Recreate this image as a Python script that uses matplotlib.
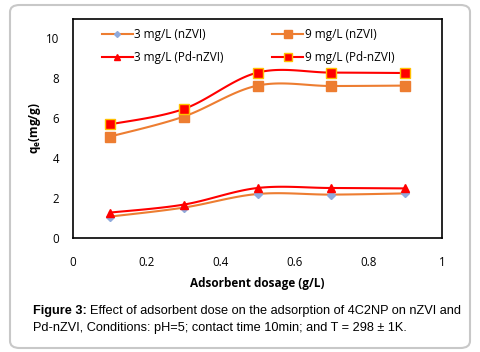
import matplotlib
matplotlib.use('Agg')
import matplotlib.pyplot as plt
import numpy as np
from matplotlib.patches import FancyBboxPatch

dosage = [0.1, 0.3, 0.5, 0.7, 0.9]
q_3_nzvi = [1.07, 1.52, 2.20, 2.17, 2.23]
q_9_nzvi = [5.07, 6.07, 7.62, 7.60, 7.62]
q_3_pd = [1.27, 1.67, 2.50, 2.50, 2.48]
q_9_pd = [5.68, 6.45, 8.27, 8.27, 8.25]

orange = '#ED7D31'
red = '#FF0000'
font = 'Open Sans'


def smooth(x, y, n=30):
    # excel style smoothed line (catmull-rom bezier)
    x = np.asarray(x, float)
    y = np.asarray(y, float)
    px = np.concatenate([[x[0]], x, [x[-1]]])
    py = np.concatenate([[y[0]], y, [y[-1]]])
    xs, ys = [], []
    t = np.linspace(0, 1, n)
    for i in range(1, len(px) - 2):
        p0 = np.array([px[i], py[i]])
        p3 = np.array([px[i + 1], py[i + 1]])
        p1 = p0 + (np.array([px[i + 1], py[i + 1]]) - np.array([px[i - 1], py[i - 1]])) / 6
        p2 = p3 - (np.array([px[i + 2], py[i + 2]]) - np.array([px[i], py[i]])) / 6
        b = ((1 - t) ** 3)[:, None] * p0 + (3 * (1 - t) ** 2 * t)[:, None] * p1 \
            + (3 * (1 - t) * t ** 2)[:, None] * p2 + (t ** 3)[:, None] * p3
        xs.extend(b[:, 0])
        ys.extend(b[:, 1])
    return xs, ys


fig = plt.figure(figsize=(4.8, 3.52), dpi=100)
fig.patches.append(FancyBboxPatch((10 / 480, 4 / 352), 460 / 480, 343 / 352,
                                  boxstyle='round,pad=0,rounding_size=0.02',
                                  transform=fig.transFigure, fc='none', ec='#C8C8C8', lw=1.5))
ax = fig.add_axes([73 / 480, 1 - 238 / 352, 369 / 480, 219 / 352])

series = [
    (q_3_nzvi, '3 mg/L (nZVI)', orange, 'D', '#8FAADC', '#8FAADC', 4),
    (q_3_pd, '3 mg/L (Pd-nZVI)', red, '^', red, red, 6),
    (q_9_nzvi, '9 mg/L (nZVI)', orange, 's', orange, orange, 7),
    (q_9_pd, '9 mg/L (Pd-nZVI)', red, 's', red, '#FFC000', 7),
]
for y, lab, c, m, fc, ec, ms in series:
    sx, sy = smooth(dosage, y)
    ax.plot(sx, sy, color=c, lw=1.5, zorder=2)
    ax.plot(dosage, y, ls='none', marker=m, ms=ms, mfc=fc, mec=ec, mew=1, zorder=3)
    ax.plot([], [], color=c, lw=1.5, marker=m, ms=ms - 1, mfc=fc, mec=ec, label=lab)

ax.set_xlim(0, 1)
ax.set_ylim(0, 10.95)
ax.set_xticks([0, 0.2, 0.4, 0.6, 0.8, 1])
ax.set_xticklabels(['0', '0.2', '0.4', '0.6', '0.8', '1'])
ax.set_yticks([0, 2, 4, 6, 8, 10])
ax.tick_params(length=0, labelsize=8.3)
ax.tick_params(axis='x', pad=13)
ax.tick_params(axis='y', pad=10)
for lbl in ax.get_xticklabels() + ax.get_yticklabels():
    lbl.set_fontfamily(font)
for s in ax.spines.values():
    s.set_linewidth(1.2)
ax.set_xlabel('Adsorbent dosage (g/L)', fontsize=8.5, fontweight='bold', family=font, labelpad=6)
ax.set_ylabel('q$_\\mathregular{e}$(mg/g)', fontsize=8.5, fontweight='bold', family=font, labelpad=2)

ax.legend(ncol=2, loc='upper left', frameon=False, prop={'family': font, 'size': 8.5},
          handlelength=2.6, handletextpad=0.15, columnspacing=4.1, labelspacing=0.9,
          borderpad=0, borderaxespad=0, bbox_to_anchor=(0.0786, 0.96))

cap = 9.2
t1 = fig.text(33 / 480, 1 - 311 / 352, 'Figure 3:', fontsize=cap, fontweight='bold',
              family='Liberation Sans', va='center')
fig.canvas.draw()
bb = t1.get_window_extent()
fig.text(bb.x1 / 480 + 3 / 480, 1 - 311 / 352,
         'Effect of adsorbent dose on the adsorption of 4C2NP on nZVI and',
         fontsize=cap, family='Liberation Sans', va='center')
fig.text(33 / 480, 1 - 328 / 352,
         'Pd-nZVI, Conditions: pH=5; contact time 10min; and T = 298 \u00b1 1K.',
         fontsize=cap, family='Liberation Sans', va='center')

fig.savefig('out.png', dpi=100)
